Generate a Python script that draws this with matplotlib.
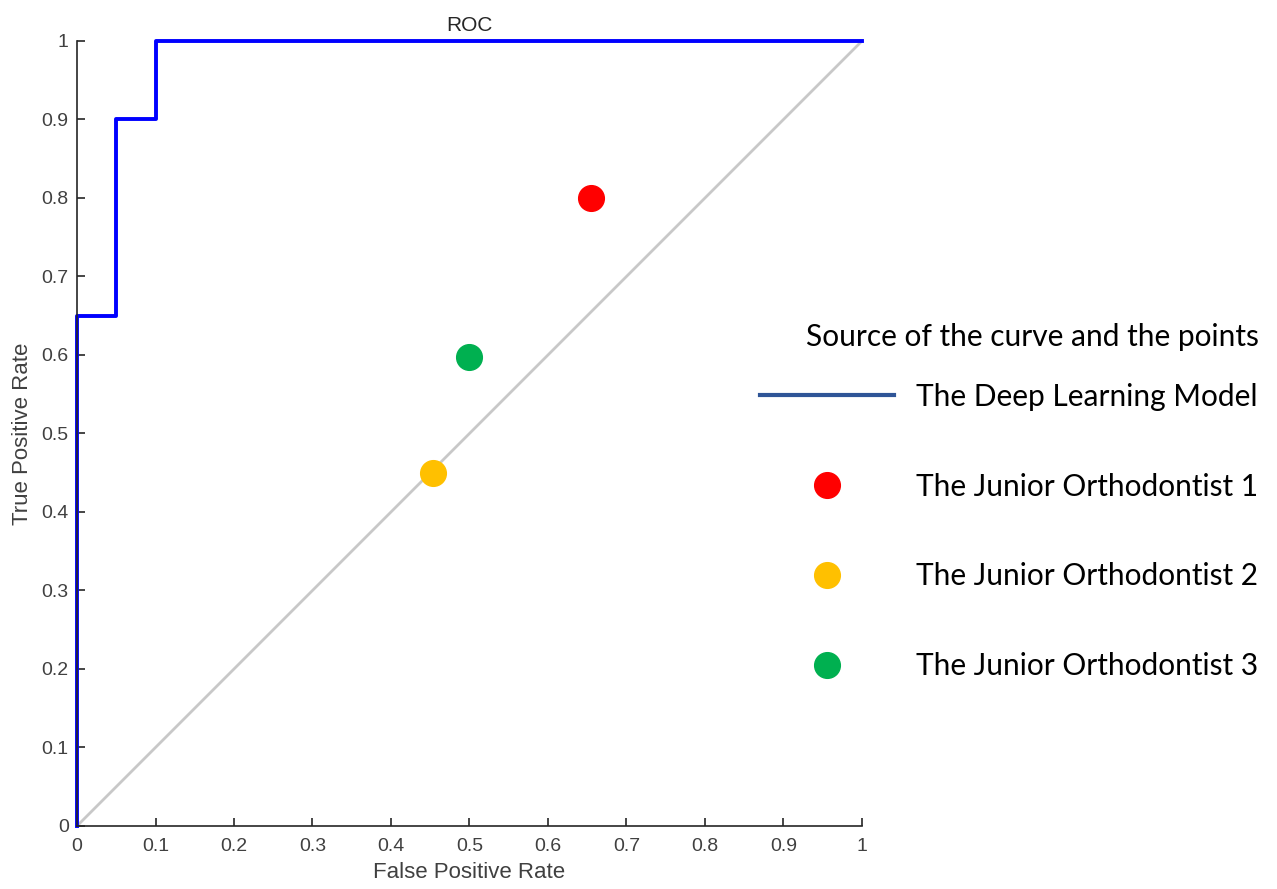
import matplotlib.pyplot as plt
from matplotlib.lines import Line2D

# ROC curve of the model (step points)
fpr = [0, 0, 0.05, 0.05, 0.1, 0.1, 1]
tpr = [0, 0.65, 0.65, 0.9, 0.9, 1, 1]

# junior orthodontists (FPR, TPR)
names = ["The Junior Orthodontist 1", "The Junior Orthodontist 2", "The Junior Orthodontist 3"]
pt_fpr = [0.655, 0.453, 0.50]
pt_tpr = [0.80, 0.45, 0.598]
pt_colors = ["#ff0000", "#ffc000", "#00b050"]

ticks = [0, 0.1, 0.2, 0.3, 0.4, 0.5, 0.6, 0.7, 0.8, 0.9, 1]
tick_labels = ["0", "0.1", "0.2", "0.3", "0.4", "0.5", "0.6", "0.7", "0.8", "0.9", "1"]

fig = plt.figure(figsize=(12.77, 8.89), dpi=100)
ax = fig.add_axes([0.0603, 0.0709, 0.6147, 0.883])

ax.plot([0, 1], [0, 1], color="#c8c8c8", lw=2, zorder=1)
ax.plot(fpr, tpr, color="#0000ff", lw=2.8, zorder=2, clip_on=False)
for x, y, c in zip(pt_fpr, pt_tpr, pt_colors):
    ax.plot(x, y, "o", color=c, ms=18.5, zorder=3)

ax.set_xlim(0, 1)
ax.set_ylim(0, 1)
ax.set_xticks(ticks)
ax.set_xticklabels(tick_labels)
ax.set_yticks(ticks)
ax.set_yticklabels(tick_labels)
for s in ["top", "right"]:
    ax.spines[s].set_visible(False)
for s in ["left", "bottom"]:
    ax.spines[s].set_color("#262626")
    ax.spines[s].set_linewidth(1.2)
ax.tick_params(direction="in", length=6, width=1.2, color="#262626",
               labelcolor="#404040", labelsize=14, pad=6)
ax.tick_params(axis="x", pad=9)
for lab in ax.get_xticklabels() + ax.get_yticklabels():
    lab.set_family("Liberation Sans")
ax.set_xlabel("False Positive Rate", family="Liberation Sans", fontsize=16,
              color="#404040", labelpad=5)
ax.set_ylabel("True Positive Rate", family="Liberation Sans", fontsize=16,
              color="#404040", labelpad=6)
ax.set_title("ROC", family="Liberation Sans", fontsize=15, color="#262626", pad=7)

handles = [Line2D([], [], color="#2f5597", lw=3)]
labels = ["The Deep Learning Model"]
for n, c in zip(names, pt_colors):
    handles.append(Line2D([], [], ls="none", marker="o", color=c, ms=18.5))
    labels.append(n)

leg = fig.legend(handles, labels, title="Source of the curve and the points",
                 loc="upper left", bbox_to_anchor=(0.574, 0.667),
                 frameon=False, handlelength=4.5, handletextpad=0.74,
                 labelspacing=2.07, prop={"family": "Lato", "size": 21.5},
                 title_fontproperties={"family": "Lato", "size": 21.5},
                 alignment="right")
leg._legend_box.sep = 23

fig.savefig("out.png", dpi=100)
